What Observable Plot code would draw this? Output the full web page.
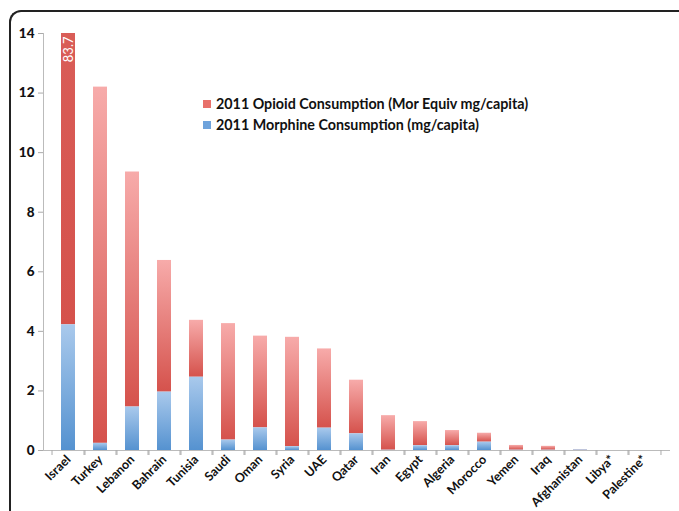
<!DOCTYPE html>
<html><head><meta charset="utf-8">
<script src="https://cdn.jsdelivr.net/npm/d3@7"></script>
<script src="https://cdn.jsdelivr.net/npm/@observablehq/plot@0.6"></script>
<style>
body{margin:0;background:#fff;}
#wrap{position:relative;width:679px;height:511px;overflow:hidden;font-family:Lato, "Open Sans", sans-serif;}
#wrap svg{position:absolute;left:0;top:0;}
#border{position:absolute;left:9px;top:10px;width:720px;height:620px;border-top:2px solid #222;border-left:2px solid #222;border-top-left-radius:12px;}
#legend{position:absolute;left:203px;top:93px;font-weight:bold;font-size:14.3px;color:#111;line-height:21px;}
#legend .sw{display:inline-block;width:8px;height:8px;margin-right:5px;vertical-align:1px;}
</style></head>
<body>
<div id="wrap">
<div id="border"></div>
</div>
<script>
const countries = ["Israel","Turkey","Lebanon","Bahrain","Tunisia","Saudi","Oman","Syria","UAE","Qatar","Iran","Egypt","Algeria","Morocco","Yemen","Iraq","Afghanistan","Libya*","Palestine*"];
const opioid   = [83.7, 12.2, 9.35, 6.38, 4.37, 4.26, 3.84, 3.80, 3.41, 2.36, 1.17, 0.97, 0.67, 0.58, 0.17, 0.14, 0.03, 0, 0];
const morphine = [4.22, 0.24, 1.46, 1.96, 2.46, 0.35, 0.76, 0.13, 0.75, 0.56, 0.01, 0.16, 0.16, 0.28, 0.01, 0.01, 0.02, 0, 0];
const yTicks = [0, 2, 4, 6, 8, 10, 12, 14];
const seriesNames = ["2011 Opioid Consumption (Mor Equiv mg/capita)", "2011 Morphine Consumption (mg/capita)"];
const seriesColors = ["#e8706a", "#6ea3dc"];

const rows = countries.map((c, i) => ({country: c, opioid: opioid[i], morphine: morphine[i]}));

const W = 679, H = 511, mL = 43, mR = 10, mT = 33, mB = 61;
const step = (W - mL - mR) / countries.length;

const chart = Plot.plot({
  width: W, height: H,
  marginLeft: mL, marginRight: mR, marginTop: mT, marginBottom: mB,
  style: {fontFamily: "Lato, 'Open Sans', sans-serif", background: "transparent", color: "#111"},
  x: {domain: countries, paddingInner: 0.57, paddingOuter: 0.285, label: null},
  y: {domain: [0, 14], label: null},
  marks: [
    Plot.barY(rows, {x: "country", y1: "morphine", y2: "opioid", fill: "url(#gRed)", clip: true}),
    Plot.barY(rows, {x: "country", y1: 0, y2: "morphine", fill: "url(#gBlue)"}),
    Plot.text(rows.filter(d => d.opioid > 14), {x: "country", frameAnchor: "top", lineAnchor: "middle", text: d => d.opioid.toFixed(1), rotate: -90, textAnchor: "end", fill: "white", fontSize: 13, dy: 3}),
    Plot.frame({anchor: "left", stroke: "#bbb"}),
    Plot.frame({anchor: "bottom", stroke: "#bbb"}),
    Plot.axisY({ticks: yTicks, tickSize: 5, tickPadding: 4, stroke: "#aaa", fill: "#111", fontSize: 13.5, fontWeight: "900"}),
    Plot.axisX({tickSize: 0, tickRotate: -45, tickPadding: 7, fill: "#111", fontSize: 12.5, fontWeight: "bold"}),
    Plot.axisX({tickSize: 5, tickFormat: () => "", stroke: "#aaa", dx: -step / 2}),
    Plot.axisX({tickSize: 5, tickFormat: () => "", stroke: "#aaa", dx: step / 2})
  ]
});

d3.select(chart).insert("defs", ":first-child").html(`
  <linearGradient id="gRed" x1="0" y1="0" x2="0" y2="1">
    <stop offset="0" stop-color="#f7abaa"/>
    <stop offset="1" stop-color="#d5524c"/>
  </linearGradient>
  <linearGradient id="gBlue" x1="0" y1="0" x2="0" y2="1">
    <stop offset="0" stop-color="#a9c9ec"/>
    <stop offset="1" stop-color="#5592d0"/>
  </linearGradient>`);

const wrap = document.getElementById("wrap");
wrap.appendChild(chart);
const legend = document.createElement("div");
legend.id = "legend";
legend.innerHTML = seriesNames.map((n, i) => `<div><span class="sw" style="background:${seriesColors[i]}"></span>${n}</div>`).join("");
wrap.appendChild(legend);
</script>
</body></html>
